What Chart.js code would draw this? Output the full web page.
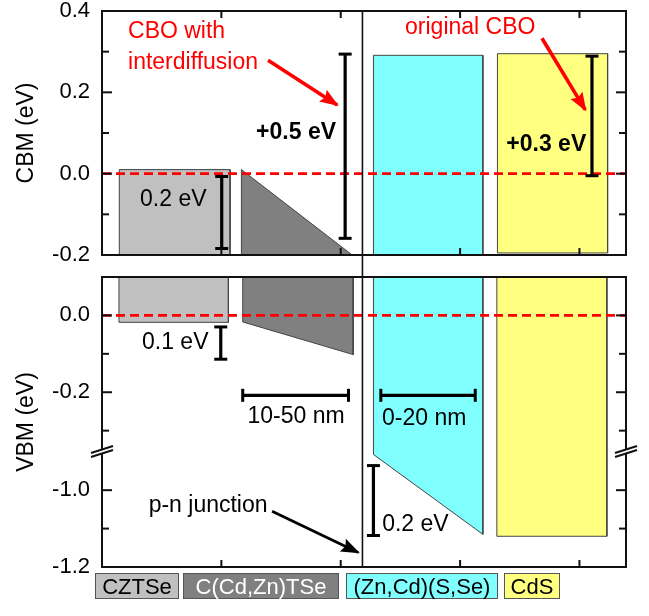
<!DOCTYPE html>
<html>
<head>
<meta charset="utf-8">
<script src="https://cdn.jsdelivr.net/npm/chart.js@4.4.1/dist/chart.umd.min.js"></script>
<style>
  html, body { margin: 0; padding: 0; background: #fff; }
  #wrap { position: relative; width: 649px; height: 616px; font-family: 'Liberation Sans', Arial, sans-serif; }
  .pane { position: absolute; left: 0; width: 649px; }
  #paneCbm { top: 0; height: 266px; }
  #paneVbm { top: 266px; height: 312px; }
  #legend { position: absolute; left: 95px; top: 573px; display: flex; }
  #legend div { height: 26px; line-height: 26px; font-size: 22px; text-align: center;
                border: 1px solid #555; box-sizing: border-box; margin-right: 4px; }
  #legend div:nth-child(1) { width: 84px; }
  #legend div:nth-child(2) { width: 156px; margin-right: 7px; }
  #legend div:nth-child(3) { width: 152px; margin-right: 6px; }
  #legend div:nth-child(4) { width: 56px; }
</style>
</head>
<body>
<div id="wrap">
  <div class="pane" id="paneCbm"><canvas id="cbm"></canvas></div>
  <div class="pane" id="paneVbm"><canvas id="vbm"></canvas></div>
  <div id="legend"></div>
</div>
<script>
// Bandausrichtung CZTSe / C(Cd,Zn)TSe / (Zn,Cd)(S,Se) / CdS
// x: Positionseinheiten (1 = Tickabstand), y: eV

const layerNames = ['CZTSe', 'C(Cd,Zn)TSe', '(Zn,Cd)(S,Se)', 'CdS'];
const layerColors = ['#c0c0c0', '#808080', '#80ffff', '#ffff80'];
const layerText = ['#000', '#fff', '#000', '#000'];

const xTicks = [1, 2, 3, 4];
const X_MAX = 4.39;
const DIVIDER_X = 2.182;

const cbmTicks = [-0.2, 0.0, 0.2, 0.4];
const cbmMinor = [-0.1, 0.1, 0.3];
const vbmTicks = [0.0, -0.2, -1.0, -1.2];
const vbmMinor = [-0.1, -0.3, -1.1];
const VBM_TOP = 0.1, VBM_BOTTOM = -1.2;
// Achsenbruch: nach -0.355 geht es direkt bei -0.9 weiter
const BREAK_HIGH = -0.355, BREAK_LOW = -0.9;

// Umrisse der Schichten [x, eV]
const cbmCZTSe = [[0.145, 0.01], [1.073, 0.01], [1.073, -0.2], [0.145, -0.2]];
const cbmCCZTSe = [[1.168, 0.01], [2.096, -0.2], [1.168, -0.2]];
const cbmZCSSe = [[2.274, 0.291], [3.191, 0.291], [3.191, -0.2], [2.274, -0.2]];
const cbmCdS = [[3.313, 0.295], [4.236, 0.295], [4.236, -0.195], [3.313, -0.195]];

const vbmCZTSe = [[0.142, 0.1], [1.059, 0.1], [1.059, -0.018], [0.142, -0.018]];
const vbmCCZTSe = [[1.179, 0.1], [2.104, 0.1], [2.104, -0.102], [1.179, -0.017]];
const vbmZCSSe = [[2.274, 0.1], [3.191, 0.1], [3.191, -1.115], [2.274, -0.907]];
const vbmCdS = [[3.308, 0.1], [4.23, 0.1], [4.23, -1.12], [3.308, -1.12]];

// Fehlerbalken: senkrecht [x, y1, y2], waagrecht [y, x1, x2]
const cbmVBars = [[1.003, -0.007, -0.184], [2.037, 0.294, -0.159], [4.105, 0.289, -0.005]];
const vbmVBars = [[0.995, -0.03, -0.114], [2.274, -0.936, -1.118]];
const vbmHBars = [[-0.208, 1.179, 2.065], [-0.208, 2.336, 3.127]];

// Pfeile [x1, y1, x2, y2]
const cbmArrows = [[1.391, 0.279, 1.970, 0.169], [3.686, 0.333, 4.049, 0.157]];
const vbmArrows = [[1.425, -1.055, 2.146, -1.162]];

// Beschriftungen [text, x, y, align, farbe, fett]
const cbmLabels = [
  ['CBO with', 0.218, 0.348, 'left', '#ff0000', false],
  ['interdiffusion', 0.218, 0.274, 'left', '#ff0000', false],
  ['+0.5 eV', 1.626, 0.100, 'center', '#000', true],
  ['0.2 eV', 0.319, -0.064, 'left', '#000', false],
  ['original CBO', 3.085, 0.360, 'center', '#ff0000', false],
  ['+0.3 eV', 3.722, 0.071, 'center', '#000', true]
];
const vbmLabels = [
  ['0.1 eV', 0.335, -0.071, 'left', '#000', false],
  ['10-50 nm', 1.626, -0.264, 'center', '#000', false],
  ['0-20 nm', 2.699, -0.269, 'center', '#000', false],
  ['0.2 eV', 2.347, -1.089, 'left', '#000', false],
  ['p-n junction', 0.889, -1.040, 'center', '#000', false]
];

const FONT = "'Liberation Sans', Arial, sans-serif";

function mapV(v) { return v <= BREAK_LOW ? v - BREAK_LOW + BREAK_HIGH : v; }
const ident = v => v;

function buildDatasets(shapes, vbars, hbars, arrows, map) {
  const ds = [];
  shapes.forEach((pts, i) => {
    const data = pts.concat([pts[0]]).map(([x, y]) => ({x, y: map(y)}));
    ds.push({ data, fill: 'shape', backgroundColor: layerColors[i], borderColor: '#444',
      borderWidth: 1, pointRadius: 0, tension: 0, order: 5 });
  });
  ds.push({ data: [{x: 0, y: 0}, {x: X_MAX, y: 0}], borderColor: '#ff0000', borderWidth: 2.6,
    borderDash: [9, 5], pointRadius: 0, fill: false, order: 4 });
  vbars.forEach(([x, y1, y2]) => ds.push({ data: [{x, y: map(y1)}, {x, y: map(y2)}],
    borderColor: '#000', borderWidth: 3.2, pointStyle: 'line', pointRadius: 6.5,
    pointBorderWidth: 3, pointBorderColor: '#000', pointRotation: 0, fill: false, order: 2 }));
  hbars.forEach(([y, x1, x2]) => ds.push({ data: [{x: x1, y: map(y)}, {x: x2, y: map(y)}],
    borderColor: '#000', borderWidth: 3.2, pointStyle: 'line', pointRadius: 6.5,
    pointBorderWidth: 3, pointBorderColor: '#000', pointRotation: 90, fill: false, order: 2 }));
  arrows.forEach(([x1, y1, x2, y2]) => ds.push({ data: [{x: x1, y: map(y1)}, {x: x2, y: map(y2)}],
    borderColor: map === ident ? '#ff0000' : '#000', borderWidth: map === ident ? 3.6 : 2.8,
    pointRadius: 0, fill: false, arrowHead: true, order: 1 }));
  return ds;
}

// Rahmen, nach innen zeigende Ticks, Trennlinie, Achsenbruch
const framePlugin = {
  id: 'frame',
  afterDraw(chart, args, o) {
    const {ctx, chartArea: a, scales: {x, y}} = chart;
    const line = (x1, y1, x2, y2) => { ctx.beginPath(); ctx.moveTo(x1, y1); ctx.lineTo(x2, y2); ctx.stroke(); };
    ctx.save();
    ctx.strokeStyle = '#111';
    ctx.lineWidth = 2;
    ctx.strokeRect(a.left, a.top, a.right - a.left, a.bottom - a.top);
    const yt = (v, len) => { const py = y.getPixelForValue(o.map(v)); line(a.left, py, a.left + len, py); line(a.right, py, a.right - len, py); };
    o.major.forEach(v => yt(v, 10));
    o.minor.forEach(v => yt(v, 7));
    xTicks.forEach(v => {
      const px = x.getPixelForValue(v);
      if (o.topTicks) line(px, a.top, px, a.top + 7);
      line(px, a.bottom, px, a.bottom - 7);
    });
    ctx.lineWidth = 1.6;
    const dx = x.getPixelForValue(DIVIDER_X);
    if (o.divider === 'down') line(dx, a.top, dx, chart.height);
    else line(dx, 0, dx, a.bottom);
    if (o.breakAt !== undefined) {
      const by = y.getPixelForValue(o.breakAt);
      [a.left, a.right].forEach(bx => {
        ctx.fillStyle = '#fff';
        ctx.beginPath();
        ctx.moveTo(bx - 11, by + 2); ctx.lineTo(bx + 11, by - 5);
        ctx.lineTo(bx + 11, by - 1); ctx.lineTo(bx - 11, by + 6);
        ctx.closePath(); ctx.fill();
        ctx.lineWidth = 2;
        line(bx - 11, by + 2, bx + 11, by - 5);
        line(bx - 11, by + 6, bx + 11, by - 1);
      });
    }
    ctx.restore();
  }
};

const arrowPlugin = {
  id: 'arrows',
  afterDatasetsDraw(chart) {
    const ctx = chart.ctx;
    chart.data.datasets.forEach((d, i) => {
      if (!d.arrowHead) return;
      const pts = chart.getDatasetMeta(i).data;
      const p0 = pts[0], p1 = pts[1];
      const ang = Math.atan2(p1.y - p0.y, p1.x - p0.x);
      const L = 17, W = 7;
      ctx.save();
      ctx.fillStyle = d.borderColor;
      ctx.translate(p1.x, p1.y);
      ctx.rotate(ang);
      ctx.beginPath();
      ctx.moveTo(2, 0); ctx.lineTo(-L, -W); ctx.lineTo(-L + 3, 0); ctx.lineTo(-L, W);
      ctx.closePath(); ctx.fill();
      ctx.restore();
    });
  }
};

const labelPlugin = {
  id: 'labels',
  afterDatasetsDraw(chart, args, o) {
    const {ctx, scales: {x, y}} = chart;
    ctx.save();
    ctx.textBaseline = 'middle';
    o.items.forEach(([t, lx, ly, align, color, bold]) => {
      ctx.font = (bold ? 'bold ' : '') + '23px ' + FONT;
      ctx.fillStyle = color;
      ctx.textAlign = align;
      ctx.fillText(t, x.getPixelForValue(lx), y.getPixelForValue(o.map(ly)));
    });
    ctx.restore();
  }
};

function makeChart(id, cfg) {
  return new Chart(document.getElementById(id), {
    type: 'line',
    data: { datasets: buildDatasets(cfg.shapes, cfg.vbars, cfg.hbars, cfg.arrows, cfg.map) },
    options: {
      responsive: true, maintainAspectRatio: false, animation: false,
      layout: { padding: { left: 0, right: 23, top: 11, bottom: 11 } },
      plugins: {
        legend: { display: false }, tooltip: { enabled: false },
        frame: cfg.frame,
        labels: { items: cfg.labels, map: cfg.map }
      },
      scales: {
        x: { type: 'linear', min: 0, max: X_MAX, display: false },
        y: {
          type: 'linear', min: cfg.min, max: cfg.max,
          afterFit: s => { s.width = 102; s.paddingTop = 0; s.paddingBottom = 0; },
          afterBuildTicks: s => { s.ticks = cfg.ticks.map(v => ({ value: cfg.map(v) })); },
          grid: { display: false, drawTicks: false },
          border: { display: false },
          title: { display: true, text: cfg.title, color: '#000',
            font: { family: FONT, size: 23 }, padding: { top: 13, bottom: 0 } },
          ticks: {
            color: '#000', padding: 12, font: { family: FONT, size: 22, lineHeight: 1 },
            callback: val => {
              const v = cfg.ticks.find(t => Math.abs(cfg.map(t) - val) < 1e-6);
              return v === undefined ? '' : v.toFixed(1);
            }
          }
        }
      }
    },
    plugins: [framePlugin, arrowPlugin, labelPlugin]
  });
}

makeChart('cbm', {
  shapes: [cbmCZTSe, cbmCCZTSe, cbmZCSSe, cbmCdS], vbars: cbmVBars, hbars: [], arrows: cbmArrows,
  map: ident, min: -0.2, max: 0.4, ticks: cbmTicks, title: 'CBM (eV)', labels: cbmLabels,
  frame: { major: cbmTicks, minor: cbmMinor, map: ident, topTicks: true, divider: 'down' }
});

makeChart('vbm', {
  shapes: [vbmCZTSe, vbmCCZTSe, vbmZCSSe, vbmCdS], vbars: vbmVBars, hbars: vbmHBars, arrows: vbmArrows,
  map: mapV, min: mapV(VBM_BOTTOM), max: VBM_TOP, ticks: vbmTicks, title: 'VBM (eV)', labels: vbmLabels,
  frame: { major: vbmTicks, minor: vbmMinor, map: mapV, topTicks: false, divider: 'up', breakAt: BREAK_HIGH + 0.002 }
});

// Legende der Schichten
const leg = document.getElementById('legend');
layerNames.forEach((n, i) => {
  const d = document.createElement('div');
  d.textContent = n;
  d.style.background = layerColors[i];
  d.style.color = layerText[i];
  leg.appendChild(d);
});
</script>
</body>
</html>
